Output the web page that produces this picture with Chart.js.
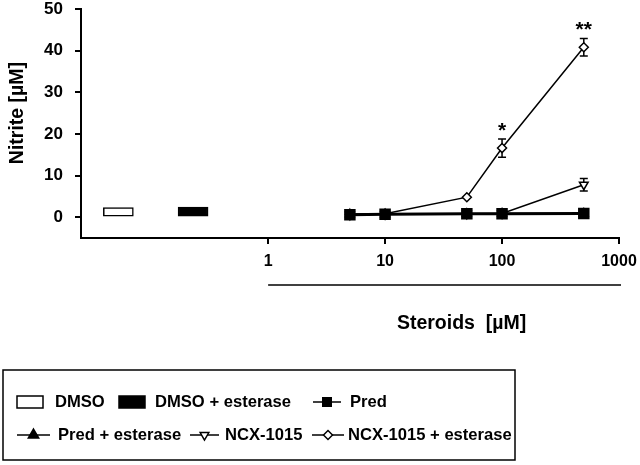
<!DOCTYPE html>
<html lang="en">
<head>
<meta charset="UTF-8" />
<title>Nitrite vs steroids</title>
<style>
  html, body { margin: 0; padding: 0; background: #fff; }
  canvas { display: block; }
</style>
</head>
<body>
<canvas id="nitriteChart" width="640" height="465"></canvas>
<script src="https://cdn.jsdelivr.net/npm/chart.js"></script>
<script>
const doses = [5, 10, 50, 100, 500];
const pred = [0.6, 0.7, 0.8, 0.8, 0.9];
const predEsterase = [0.7, 0.7, 0.8, 0.9, 0.9];
const ncx = [0.6, 0.7, 0.8, 0.9, 7.8];
const ncxErr = [0, 0, 0, 0, 1.5];
const ncxEsterase = [0.7, 0.8, 4.8, 16.6, 40.8];
const ncxEsteraseErr = [0, 0, 0, 2.2, 2.1];
const stars = ['', '', '', '*', '**'];
const controlLabels = ['DMSO', 'DMSO + esterase'];
const controlValues = [2.3, 2.4];
const yTicks = [0, 10, 20, 30, 40, 50];
const xTicks = [1, 10, 100, 1000];

const FONT = '"Liberation Sans", Arial, sans-serif';
const pts = arr => doses.map((d, i) => ({ x: d, y: arr[i] }));

// error bars, stars, titles and the boxed legend
const decor = {
  id: 'decor',
  beforeDatasetsDraw(chart) {
    const ctx = chart.ctx, xs = chart.scales.x, ys = chart.scales.y;
    chart.data.datasets.forEach(ds => {
      if (!ds.errors) return;
      ctx.save();
      ctx.strokeStyle = '#000';
      ctx.lineWidth = 1.5;
      ds.errors.forEach((e, i) => {
        if (!e) return;
        const x = xs.getPixelForValue(doses[i]);
        const y1 = ys.getPixelForValue(ds.data[i].y + e);
        const y2 = ys.getPixelForValue(ds.data[i].y - e);
        ctx.beginPath();
        ctx.moveTo(x, y1); ctx.lineTo(x, y2);
        ctx.moveTo(x - 4, y1); ctx.lineTo(x + 4, y1);
        ctx.moveTo(x - 4, y2); ctx.lineTo(x + 4, y2);
        ctx.stroke();
      });
      ctx.restore();
    });
  },
  afterDraw(chart) {
    const ctx = chart.ctx, xs = chart.scales.x, ys = chart.scales.y;
    const area = chart.chartArea;
    ctx.save();
    ctx.fillStyle = '#000';
    ctx.strokeStyle = '#000';

    // significance stars
    ctx.font = 'bold 21px ' + FONT;
    ctx.textAlign = 'center';
    ctx.textBaseline = 'middle';
    stars.forEach((s, i) => {
      if (!s) return;
      const x = xs.getPixelForValue(doses[i]);
      const y = ys.getPixelForValue(ncxEsterase[i] + ncxEsteraseErr[i]);
      ctx.fillText(s, x, y - 8);
    });

    // y title
    ctx.save();
    ctx.translate(18, (ys.getPixelForValue(0) + ys.getPixelForValue(50)) / 2);
    ctx.rotate(-Math.PI / 2);
    ctx.font = 'bold 19.5px ' + FONT;
    ctx.fillText('Nitrite [µM]', 0, 0);
    ctx.restore();

    // line under the dose ticks and the x title
    const x1 = xs.getPixelForValue(1), x2 = xs.getPixelForValue(1000);
    ctx.lineWidth = 1.5;
    ctx.beginPath();
    ctx.moveTo(x1, area.bottom + 47);
    ctx.lineTo(x2 + 2, area.bottom + 47);
    ctx.stroke();
    ctx.font = 'bold 19.5px ' + FONT;
    ctx.fillText('Steroids  [µM]', (x1 + x2) / 2 + 18, area.bottom + 86);

    // legend
    ctx.lineWidth = 1.5;
    ctx.strokeRect(3, 370, 512, 90);
    ctx.font = 'bold 16.6px ' + FONT;
    ctx.textAlign = 'left';
    const row1 = 402, row2 = 435;
    const box = (x, y, fill) => {
      ctx.fillStyle = fill;
      ctx.fillRect(x, y - 6, 26, 12);
      ctx.strokeRect(x, y - 6, 26, 12);
      ctx.fillStyle = '#000';
    };
    const lineSym = (x, w, y, style, fill, rot, r) => {
      ctx.lineWidth = 1.5;
      ctx.beginPath();
      ctx.moveTo(x, y); ctx.lineTo(x + w, y);
      ctx.stroke();
      ctx.fillStyle = fill;
      Chart.helpers.drawPoint(ctx, { pointStyle: style, radius: r, rotation: rot, borderWidth: 1.5 }, x + w / 2, y);
      ctx.fillStyle = '#000';
    };
    box(17, row1, '#fff');
    ctx.fillText(controlLabels[0], 55, row1);
    box(119, row1, '#000');
    ctx.fillText(controlLabels[1], 155, row1);
    lineSym(313, 28, row1, 'rect', '#000', 0, 6);
    ctx.fillText('Pred', 350, row1);
    lineSym(17, 33, row2, 'triangle', '#000', 0, 6);
    ctx.fillText('Pred + esterase', 58, row2);
    lineSym(190, 29, row2, 'triangle', '#fff', 180, 5);
    ctx.fillText('NCX-1015', 225, row2);
    lineSym(312, 32, row2, 'rectRot', '#fff', 0, 4.5);
    ctx.fillText('NCX-1015 + esterase', 348, row2);
    ctx.restore();
  }
};

const ctx = document.getElementById('nitriteChart').getContext('2d');
new Chart(ctx, {
  type: 'line',
  data: {
    datasets: [
      {
        label: 'Pred',
        data: pts(pred),
        borderColor: '#000',
        borderWidth: 3,
        pointStyle: 'rect',
        pointRadius: 6,
        pointBackgroundColor: '#000',
        pointBorderColor: '#000'
      },
      {
        label: 'Pred + esterase',
        data: pts(predEsterase),
        borderColor: '#000',
        borderWidth: 1.5,
        pointStyle: 'triangle',
        pointRadius: 5,
        pointBackgroundColor: '#000',
        pointBorderColor: '#000'
      },
      {
        label: 'NCX-1015',
        data: pts(ncx),
        errors: ncxErr,
        borderColor: '#000',
        borderWidth: 1.5,
        pointStyle: 'triangle',
        pointRotation: 180,
        pointRadius: 5,
        pointBackgroundColor: '#fff',
        pointBorderColor: '#000',
        pointBorderWidth: 1.5
      },
      {
        label: 'NCX-1015 + esterase',
        data: pts(ncxEsterase),
        errors: ncxEsteraseErr,
        borderColor: '#000',
        borderWidth: 1.5,
        pointStyle: 'rectRot',
        pointRadius: 4.5,
        pointBackgroundColor: '#fff',
        pointBorderColor: '#000',
        pointBorderWidth: 1.5
      },
      {
        type: 'bar',
        label: 'controls',
        xAxisID: 'xb',
        data: controlValues.map((v, i) => ({ x: i + 0.5, y: v })),
        backgroundColor: ['#fff', '#000'],
        borderColor: '#000',
        borderWidth: 1.5,
        borderSkipped: false,
        grouped: false,
        barThickness: 30
      }
    ]
  },
  options: {
    responsive: false,
    animation: false,
    layout: { padding: { left: 0, top: 8, right: 21, bottom: 0 } },
    plugins: { legend: { display: false }, tooltip: { enabled: false } },
    scales: {
      x: {
        type: 'logarithmic',
        position: 'bottom',
        min: Math.pow(10, -1.6),
        max: 1000,
        afterBuildTicks: s => { s.ticks = xTicks.map(v => ({ value: v })); },
        afterFit: s => { s.height = 227; s.paddingLeft = 0; s.paddingRight = 0; },
        ticks: {
          callback: v => String(v),
          autoSkip: false,
          maxRotation: 0,
          padding: 8,
          color: '#000',
          font: { family: FONT, size: 16, weight: 'bold' }
        },
        grid: { drawOnChartArea: false, tickLength: 6, color: '#000', lineWidth: 2 },
        border: { color: '#000', width: 2 }
      },
      xb: { type: 'linear', min: 0, max: 7.2, offset: false, display: false },
      y: {
        min: -5,
        max: 50,
        afterBuildTicks: s => { s.ticks = yTicks.map(v => ({ value: v })); },
        afterFit: s => { s.width = 81; s.paddingTop = 0; s.paddingBottom = 0; },
        ticks: {
          padding: 12,
          color: '#000',
          font: { family: FONT, size: 17, weight: 'bold' }
        },
        grid: { drawOnChartArea: false, tickLength: 6, color: '#000', lineWidth: 2 },
        border: { color: '#000', width: 2 }
      }
    }
  },
  plugins: [decor]
});
</script>
</body>
</html>
